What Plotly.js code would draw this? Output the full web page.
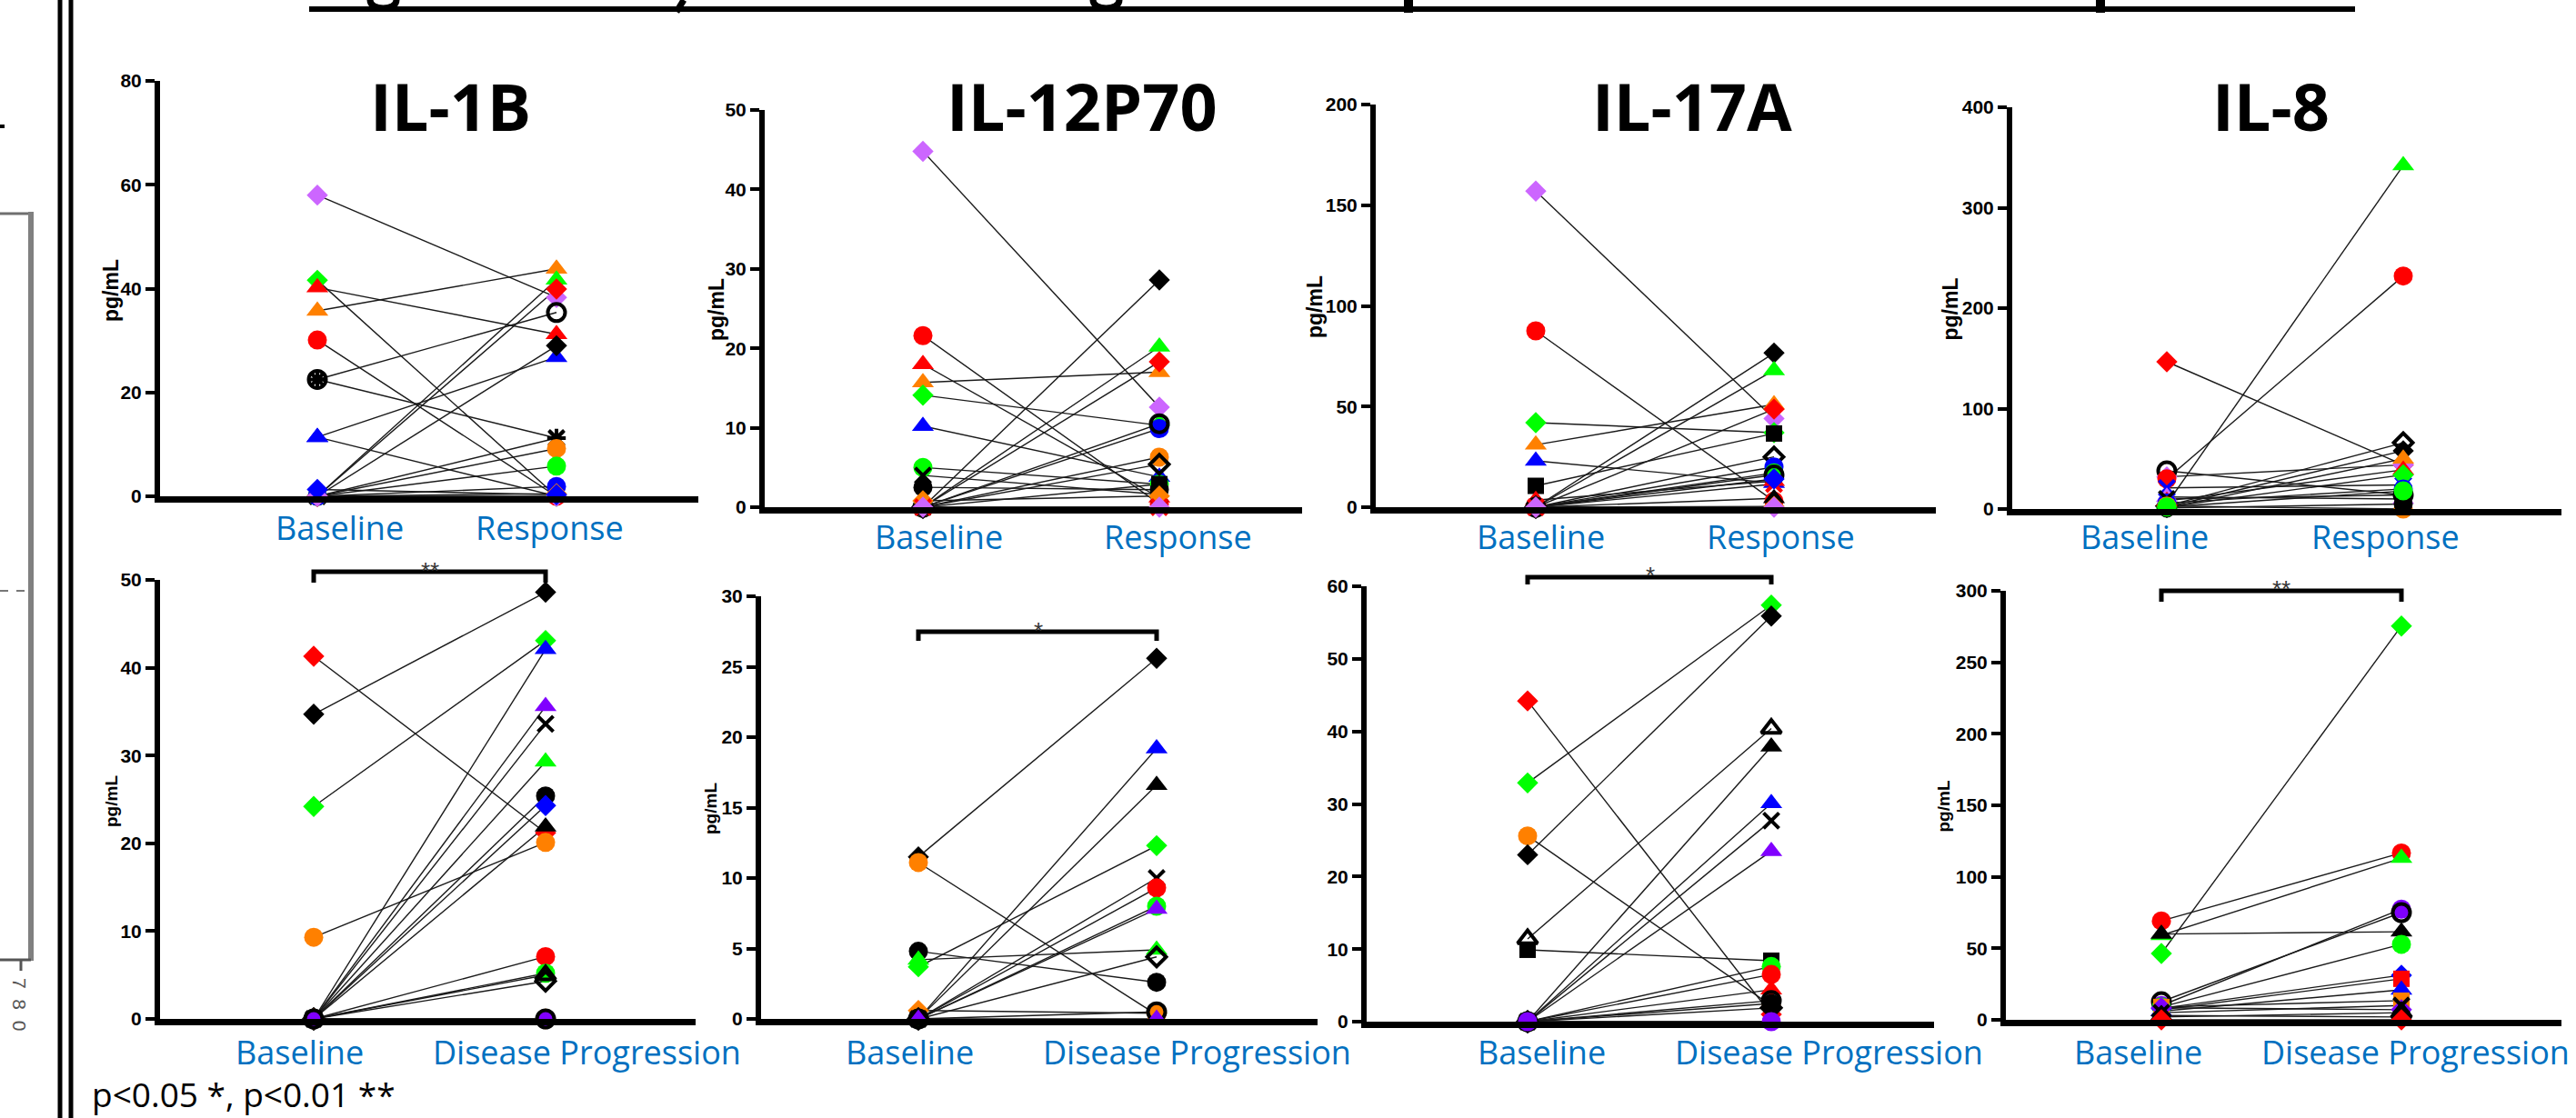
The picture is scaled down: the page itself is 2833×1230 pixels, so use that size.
<!DOCTYPE html>
<html><head><meta charset="utf-8">
<script src="https://cdn.plot.ly/plotly-3.0.1.min.js"></script>
<style>html,body{margin:0;padding:0;background:#fff;overflow:hidden;} #chart{width:2833px;height:1230px;}</style>
</head><body><div id="chart"></div>
<script>
// ---------------- DATA ----------------
const titles = ['IL-1B', 'IL-12P70', 'IL-17A', 'IL-8'];
const cats_response = ['Baseline', 'Response'];
const cats_progression = ['Baseline', 'Disease Progression'];
const y_unit = 'pg/mL';
const sig_marks = ['**', '*', '*', '**'];
const footnote = 'p<0.05 *, p<0.01 **';
const yaxis_max = [80, 50, 200, 400, 50, 30, 60, 300];
const yaxis_step = [20, 10, 50, 100, 10, 5, 10, 50];

// IL-1B  Baseline -> Response
const il1b_resp_keys = ['dia_violet','dia_green','tri_red','tri_orange','cir_red','ast_black','cir_open','tri_blue','tri_blue','tri_green','dia_red','dia_black','x_black','cir_orange','cir_green','cir_blue','dia_orange','dia_violet','dia_blue'];
const il1b_resp_base = [58.0, 41.6, 40.2, 35.7, 30.1, 22.5, 22.5, 11.4, 11.4, 0, 0, 0, 0, 0, 0, 0, 0, 0, 1.3];
const il1b_resp_resp = [38.3, 0, 31.2, 43.8, 0, 11.2, 35.4, 26.8, 0, 41.7, 39.9, 29.0, 11.2, 9.2, 5.8, 1.9, 0.5, 0, 0.3];

// IL-12P70 Baseline -> Response
const il12_resp_keys = ['dia_violet','cir_red','tri_red','tri_orange','dia_green','tri_blue','cir_green','x_black','cir_black','dia_black','tri_green','dia_red','cir_blue','cir_open','cir_orange','dia_open','sq_black','dia_orange','x_red','dia_violet'];
const il12_resp_base = [44.8, 21.6, 18.0, 15.7, 14.1, 10.2, 5.0, 4.0, 2.5, 0, 0, 0, 0, 0, 0, 0, 0, 0.8, 0, 0];
const il12_resp_resp = [12.6, 0.4, 1.2, 17.0, 10.3, 3.8, 2.9, 1.6, 2.2, 28.6, 20.2, 18.3, 9.9, 10.5, 6.3, 5.4, 2.9, 1.4, 0, 0];

// IL-17A Baseline -> Response
const il17_resp_keys = ['dia_violet','cir_red','dia_green','tri_orange','tri_blue','sq_black','tri_red','dia_black','tri_green','dia_red','dia_open','cir_blue','cir_green','cir_open','x_red','tri_black','dia_blue','dia_orange','dia_violet'];
const il17_resp_base = [157, 87.6, 42, 31, 23, 10.6, 3.5, 0, 0, 0, 0, 0, 0, 0, 0, 0, 0, 0, 0];
const il17_resp_resp = [44, 3, 37, 51, 12, 36.6, 13, 76.6, 68, 48.7, 25, 20, 17, 16, 11.5, 4.4, 14, 0.4, 0];

// IL-8 Baseline -> Response
const il8_resp_keys = ['dia_red','cir_open','dia_violet','cir_red','x_blue','tri_violet','tri_green','dia_open','dia_black','tri_orange','tri_red','dia_green','cir_blue','x_black','cir_orange','cir_black','cir_green'];
const il8_resp_base = [146.6, 38, 32, 30, 21, 12, 5, 3, 2, 1, 8, 2, 6, 10, 3, 1, 2];
const il8_resp_resp = [44, 14, 44, 232, 24, 10, 342, 66, 58, 50, 39, 34, 20, 14, 0, 5, 18];

// IL-1B Baseline -> Disease Progression
const il1b_prog_keys = ['dia_red','dia_black','dia_green','cir_orange','tri_blue','tri_purple','x_black','tri_green','cir_black','dia_blue','tri_black','cir_red','cir_green','tri_open','dia_open','dia_orange','cir_purple','cir_open'];
const il1b_prog_base = [41.3, 34.7, 24.2, 9.3, 0, 0, 0, 0, 0, 0, 0, 0, 0, 0, 0, 0, 0, 0];
const il1b_prog_prog = [21.2, 48.6, 43.1, 20.1, 42.1, 35.6, 33.6, 29.3, 25.4, 24.3, 21.9, 7.1, 5.2, 5.0, 4.3, 0, 0, 0];

// IL-12P70 Baseline -> Disease Progression
const il12_prog_keys = ['dia_black','cir_orange','cir_black','tri_green','dia_green','dia_orange','tri_blue','tri_black','x_black','cir_red','cir_green','tri_purple','dia_open','cir_open','tri_purple'];
const il12_prog_base = [11.5, 11.1, 4.8, 4.2, 3.7, 0.6, 0, 0, 0, 0, 0, 0, 0, 0, 0];
const il12_prog_prog = [25.6, 0.3, 2.6, 4.9, 12.3, 0.4, 19.2, 16.6, 10.0, 9.3, 8.0, 7.8, 4.4, 0.5, 0];

// IL-17A Baseline -> Disease Progression
const il17_prog_keys = ['dia_red','dia_green','cir_orange','dia_black','tri_open','sq_black','tri_black','tri_blue','x_black','tri_purple','cir_green','cir_red','tri_red','cir_open','cir_black','dia_open','tri_green','cir_purple'];
const il17_prog_base = [44.2, 32.9, 25.6, 23.0, 11.4, 9.9, 0, 0, 0, 0, 0, 0, 0, 0, 0, 0, 0, 0];
const il17_prog_prog = [1.0, 57.4, 2.2, 55.9, 40.4, 8.4, 37.9, 30.1, 27.7, 23.5, 7.6, 6.5, 4.4, 2.9, 2.5, 1.9, 0, 0];

// IL-8 Baseline -> Disease Progression
const il8_prog_keys = ['cir_red','tri_green','tri_black','dia_green','cir_purple','cir_open','cir_green','dia_blue','sq_red','tri_blue','sq_orange','dia_purple','x_black','dia_black','tri_open','dia_red'];
const il8_prog_base = [69.2, 59.1, 60, 46.4, 10, 12.7, 9, 8, 7, 6, 9, 8.4, 5, 3, 2, 0];
const il8_prog_prog = [116.7, 113.1, 61.6, 275.4, 77.4, 75, 52.8, 31.2, 28.7, 21, 13.4, 7.1, 10, 2, 5, 0];

// ---------------- STYLES / GEOMETRY ----------------
const W = 2833, H = 1230;
const px = x => x / W, py = y => 1 - y / H;
const COL = {violet:'#CC66FF', purple:'#8000FF', green:'#00FF00', red:'#FF0000', orange:'#FF8000', blue:'#0000FF', black:'#000000'};
const SHAPE = {dia:['diamond',18], tri:['triangle-up',21], cir:['circle',21], sq:['square',18], x:['x-thin-open',17], ast:['asterisk-open',17]};
function markerStyle(key){
  const [sh, c] = key.split('_');
  if (c === 'open') {
    const m = {dia:'diamond-open', tri:'triangle-up-open', cir:'circle-open'}[sh];
    return {symbol:m, color:'#000', size:SHAPE[sh][1]-2, lw:4};
  }
  if (sh === 'x' || sh === 'ast') return {symbol:SHAPE[sh][0], color:COL[c], size:SHAPE[sh][1], lw:4};
  return {symbol:SHAPE[sh][0], color:COL[c], size:SHAPE[sh][1], lw:0};
}

const panels = [
  {keys:il1b_resp_keys, a:il1b_resp_base, b:il1b_resp_resp, cats:cats_response, title:titles[0], g:{ax:173,end:768,bx:349,rx:612,y0:549,yt:89, tx:495, lab:[373,604], ly:580, pgx:122, pgs:23}},
  {keys:il12_resp_keys, a:il12_resp_base, b:il12_resp_resp, cats:cats_response, title:titles[1], g:{ax:838,end:1432,bx:1015,rx:1275,y0:561,yt:121, tx:1190, lab:[1032,1295], ly:590, pgx:788, pgs:23}},
  {keys:il17_resp_keys, a:il17_resp_base, b:il17_resp_resp, cats:cats_response, title:titles[2], g:{ax:1510,end:2129,bx:1689,rx:1951,y0:561,yt:115, tx:1861, lab:[1694,1958], ly:590, pgx:1446, pgs:23}},
  {keys:il8_resp_keys, a:il8_resp_base, b:il8_resp_resp, cats:cats_response, title:titles[3], g:{ax:2210,end:2817,bx:2383,rx:2643,y0:563,yt:118, tx:2497, lab:[2358,2623], ly:590, pgx:2144, pgs:23}},
  {keys:il1b_prog_keys, a:il1b_prog_base, b:il1b_prog_prog, cats:cats_progression, sig:sig_marks[0], g:{ax:173,end:765,bx:345,rx:600,y0:1124,yt:638, lab:[329,645], ly:1157, pgx:122, pgs:19, br:[629,641], star:[473,622]}},
  {keys:il12_prog_keys, a:il12_prog_base, b:il12_prog_prog, cats:cats_progression, sig:sig_marks[1], g:{ax:834,end:1449,bx:1010,rx:1272,y0:1124,yt:656, lab:[1000,1316], ly:1157, pgx:781, pgs:19, br:[695,705], star:[1142,688]}},
  {keys:il17_prog_keys, a:il17_prog_base, b:il17_prog_prog, cats:cats_progression, sig:sig_marks[2], g:{ax:1500,end:2127,bx:1680,rx:1948,y0:1127,yt:645, lab:[1696,2012], ly:1157, pgx:null, br:[635,643], star:[1815,627]}},
  {keys:il8_prog_keys, a:il8_prog_base, b:il8_prog_prog, cats:cats_progression, sig:sig_marks[3], g:{ax:2203,end:2817,bx:2377,rx:2641,y0:1125,yt:650, lab:[2351,2656], ly:1157, pgx:2137, pgs:19, br:[650,662], star:[2509,642]}}
];

const traces = [];
const layout = {
  width: W, height: H, margin:{l:0,r:0,t:0,b:0,pad:0},
  paper_bgcolor:'#fff', plot_bgcolor:'rgba(0,0,0,0)', showlegend:false,
  annotations: [], shapes: []
};
const tickFont = {family:'Liberation Sans, Arial, sans-serif', size:21, color:'#000', weight:'bold'};
const labFont = {family:'Open Sans, Noto Sans, sans-serif', size:36, color:'#0070C0'};

panels.forEach((p, i) => {
  const n = i + 1, sfx = n === 1 ? '' : String(n);
  const g = p.g;
  const L = g.ax + 3, R = g.end, span = g.rx - g.bx;
  layout['xaxis' + sfx] = {
    domain:[px(L), px(R)], range:[(L - g.bx) / span, (R - g.bx) / span],
    anchor:'y' + sfx, showline:true, linewidth:7, linecolor:'#000',
    ticks:'', showticklabels:false, showgrid:false, zeroline:false, fixedrange:true
  };
  layout['yaxis' + sfx] = {
    domain:[py(g.y0 - 3), py(g.yt)], range:[0, yaxis_max[i]], tick0:0, dtick:yaxis_step[i],
    anchor:'x' + sfx, showline:true, linewidth:6, linecolor:'#000',
    ticks:'outside', ticklen:10, tickwidth:4, tickcolor:'#000', tickfont:tickFont,
    showgrid:false, zeroline:false, fixedrange:true
  };
  // connecting lines
  const lx = [], ly = [];
  p.a.forEach((v, k) => { lx.push(0, 1, null); ly.push(v, p.b[k], null); });
  traces.push({type:'scatter', mode:'lines', x:lx, y:ly, xaxis:'x'+sfx, yaxis:'y'+sfx,
    line:{color:'#1a1a1a', width:1.4}, opacity:1, cliponaxis:false, hoverinfo:'skip'});
  // markers
  const st = p.keys.map(markerStyle);
  const mx = [], my = [], sym = [], col = [], sz = [], lw = [];
  [p.a, p.b].forEach((arr, side) => {
    arr.forEach((v, k) => { mx.push(side); my.push(v); sym.push(st[k].symbol); col.push(st[k].color); sz.push(st[k].size); lw.push(st[k].lw); });
  });
  traces.push({type:'scatter', mode:'markers', x:mx, y:my, xaxis:'x'+sfx, yaxis:'y'+sfx, cliponaxis:false, hoverinfo:'skip',
    marker:{symbol:sym, color:col, size:sz, opacity:1, line:{width:lw, color:'#000'}}});

  // category labels
  p.cats.forEach((c, k) => layout.annotations.push({text:c, xref:'paper', yref:'paper', x:px(g.lab[k]), y:py(g.ly),
    xanchor:'center', yanchor:'middle', showarrow:false, font:labFont}));
  // panel title
  if (p.title) layout.annotations.push({text:p.title, xref:'paper', yref:'paper', x:px(g.tx), y:py(116),
    xanchor:'center', yanchor:'middle', showarrow:false, font:{family:'Open Sans, Noto Sans, sans-serif', size:72, color:'#000', weight:'bold'}});
  // y unit
  if (g.pgx) layout.annotations.push({text:y_unit, xref:'paper', yref:'paper', x:px(g.pgx), y:py((g.y0 + g.yt) / 2),
    textangle:-90, xanchor:'center', yanchor:'middle', showarrow:false, font:{family:'Liberation Sans, Arial, sans-serif', size:g.pgs, color:'#000', weight:'bold'}});
  // significance bracket
  if (g.br) {
    layout.shapes.push({type:'path', xref:'paper', yref:'paper', line:{color:'#000', width:5},
      path:`M ${px(g.bx)} ${py(g.br[1])} L ${px(g.bx)} ${py(g.br[0])} L ${px(g.rx)} ${py(g.br[0])} L ${px(g.rx)} ${py(g.br[1])}`});
    layout.annotations.push({text:p.sig, xref:'paper', yref:'paper', x:px(g.star[0]), y:py(g.star[1] + 6),
      xanchor:'center', yanchor:'middle', showarrow:false, font:{family:'Liberation Sans, Arial, sans-serif', size:26, color:'#333'}});
  }
});

// footnote
layout.annotations.push({text:footnote, xref:'paper', yref:'paper', x:px(99), y:py(1176), xanchor:'left', yanchor:'top',
  showarrow:false, font:{family:'Open Sans, Noto Sans, sans-serif', size:37, color:'#000'}});
// left remnant text
layout.annotations.push({text:'7\u00a0\u00a08\u00a0\u00a00', xref:'paper', yref:'paper', x:px(22), y:py(1105), textangle:90,
  xanchor:'center', yanchor:'middle', showarrow:false, font:{family:'Liberation Sans, Arial, sans-serif', size:21, color:'#555'}});

// slide decorations (double separator, cropped neighbour panel, cropped heading underline)
const seg = (x0,y0,x1,y1,c,w,dash) => layout.shapes.push({type:'line', xref:'paper', yref:'paper', x0:px(x0), y0:py(y0), x1:px(x1), y1:py(y1), line:{color:c, width:w, dash:dash||'solid'}});
seg(66,0,66,1230,'#000',5); seg(78,0,78,1230,'#000',5);
seg(0,235,34,235,'#6f6f6f',3); seg(34,233,34,1057,'#808080',6); seg(0,1056,34,1056,'#555',3);
seg(0,650,32,650,'#777',2,'dash'); seg(23,1056,23,1068,'#555',3); seg(0,139,5,139,'#000',4);
seg(340,10,2590,10,'#000',6);
seg(752,0,744,13,'#000',7);
seg(1549,0,1549,14,'#000',10); seg(2310,0,2310,14,'#000',10);
[[407,436],[1202,1231]].forEach(([a,b]) => layout.shapes.push({type:'path', xref:'paper', yref:'paper', line:{color:'#000', width:7},
  path:`M ${px(a)} ${py(0)} C ${px(a)} ${py(12)}, ${px(b)} ${py(12)}, ${px(b)} ${py(0)}`}));

Plotly.newPlot('chart', traces, layout, {staticPlot:true, displayModeBar:false});
</script>
</body></html>
